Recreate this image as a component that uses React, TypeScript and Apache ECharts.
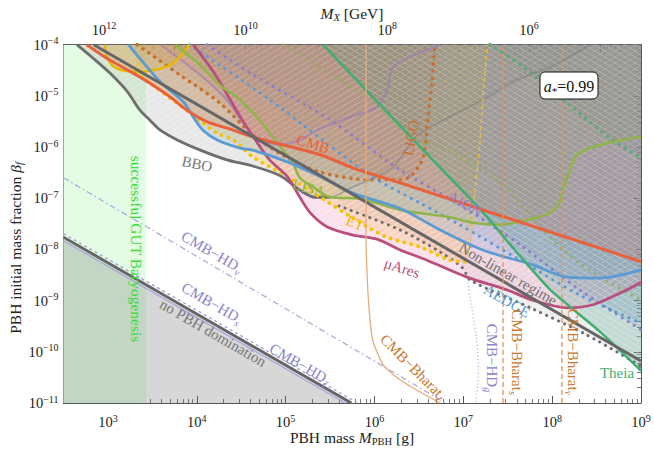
import { useEffect, useRef } from 'react';
import * as echarts from 'echarts';

const SERIF = '"Liberation Serif", "DejaVu Serif", serif';

// Axis ranges, in log10 units (PBH mass in g, beta_f, M_X in GeV)
const X_MIN = 2.5, X_MAX = 9;
const Y_MIN = -11, Y_MAX = -4;
const MX_MIN = 4.42, MX_MAX = 12.57;

const xMajor = [3, 4, 5, 6, 7, 8, 9];
const yMajor = [-11, -10, -9, -8, -7, -6, -5, -4];
const mxMajor = [5, 6, 7, 8, 9, 10, 11, 12];
const mxLabels = [6, 8, 10, 12];

// Curves: [log10 M_PBH/g, log10 beta_f]
const gutBand = [[2.5, -4], [3.43, -4]];
const noDomination = [[2.5, -7.76], [5.74, -11]];
const hdZeta = [[2.5, -7.83], [5.67, -11]];
const hdS = [[2.5, -7.69], [5.81, -11]];
const hdNu = [[2.5, -6.6], [6.8, -11]];
const hdG = [[7.05, -8.65], [7.1, -9.18], [7.15, -9.77], [7.17, -10.35], [7.14, -11]];
const bbo = [[2.65, -4], [2.83, -4.26], [3.02, -4.55], [3.22, -4.92], [3.36, -5.28], [3.47, -5.47], [3.59, -5.67], [3.78, -5.86], [4.04, -6.06], [4.34, -6.25], [4.63, -6.37], [4.94, -6.56], [5.16, -6.84], [5.33, -6.98], [5.5, -6.98], [5.73, -6.8], [5.95, -6.64], [6.21, -6.39], [6.37, -6.02], [6.51, -5.73], [6.85, -5.41], [7.22, -5.08], [7.6, -4.69], [7.98, -4.44], [8.43, -4]];
const nonLinear = [[2.84, -4], [9, -10.18]];
const ligo = [[3.33, -4], [3.81, -4.59], [4.26, -5.14], [4.63, -5.76], [5.02, -6.21], [5.39, -6.49], [5.95, -6.64], [6.29, -6.64], [6.42, -6.55], [6.55, -6.19], [6.6, -5.47], [6.65, -4.69], [6.68, -4]];
const et = [[3.31, -4.55], [3.47, -4.75], [3.7, -5.04], [3.89, -5.28], [4.07, -5.53], [4.23, -5.73], [4.41, -5.86], [4.63, -6.19], [5.02, -6.58], [5.39, -6.98], [5.76, -7.39], [6.14, -7.76], [6.51, -7.95], [6.85, -8.21], [7.02, -8.24], [7.08, -7.91], [7.12, -7.03], [7.18, -6.06], [7.22, -5.08], [7.27, -4]];
const goldLoop = [[2.96, -4], [2.99, -4.24], [3.06, -4.42], [3.19, -4.51], [3.36, -4.53], [3.53, -4.49], [3.7, -4.4], [3.83, -4.2], [3.92, -4]];
const cmb = [[2.76, -4], [3.02, -4.3], [3.28, -4.55], [3.47, -4.75], [3.7, -5.02], [3.89, -5.28], [4.12, -5.51], [4.34, -5.63], [4.63, -5.8], [5.02, -5.98], [5.39, -6.15], [5.76, -6.41], [6.29, -6.7], [9, -8.24]];
const blueSolid = [[3.23, -4], [3.59, -4.73], [3.85, -5.12], [3.96, -5.41], [4.07, -5.67], [4.23, -5.86], [4.49, -6.02], [4.63, -6.06], [5.02, -6.29], [5.39, -6.58], [5.76, -6.9], [6.29, -7.2], [6.74, -7.62], [7.22, -8.01], [7.78, -8.3], [8.17, -8.54], [8.54, -8.56], [9, -8.4]];
const lisa = [[3.76, -4], [4.04, -4.4], [4.26, -4.79], [4.49, -5.08], [4.75, -5.57], [4.94, -6.0], [5.08, -6.31], [5.16, -6.6], [5.31, -6.78], [5.5, -6.98], [5.84, -7.01], [6.29, -7.23], [6.85, -7.37], [7.11, -7.48], [7.38, -7.52], [7.64, -7.46], [7.92, -7.33], [8.07, -7.13], [8.12, -6.84], [8.18, -6.55], [8.28, -6.15], [8.54, -5.96], [9, -5.8]];
const muAres = [[3.96, -4], [4.21, -4.59], [4.49, -5.41], [4.66, -5.86], [4.82, -6.25], [5.02, -6.58], [5.16, -6.98], [5.28, -7.29], [5.47, -7.56], [5.76, -7.72], [6.03, -7.8], [6.29, -8.01], [6.59, -8.21], [7.04, -8.54], [7.49, -8.79], [7.78, -8.99], [8.17, -9.14], [8.46, -9.08], [8.84, -8.79], [9, -8.64]];
const aedge = [[5.6, -7.15], [6.29, -7.62], [6.74, -8.05], [6.99, -8.36], [7.08, -8.6], [7.78, -9.16], [8.39, -9.67], [9, -10.28]];
const blueDotted = [[3.92, -4], [4.82, -5.08], [5.95, -6.55], [6.51, -7.09], [6.96, -7.52], [7.64, -8.21], [8.31, -8.89], [9, -9.44]];
const aion = [[4.12, -4], [4.6, -4.55], [5.5, -5.47], [6.29, -6.45], [6.96, -7.13], [7.64, -7.91], [8.31, -8.79], [9, -9.57]];
const mauve = [[3.59, -4], [4.04, -4.59], [4.34, -5.08], [4.63, -5.76], [4.94, -5.96], [5.16, -5.86], [5.35, -5.67], [5.73, -5.41], [6.03, -5.22], [6.14, -4.89], [6.21, -4.44], [6.4, -4.24], [6.74, -4]];
const theia = [[5.42, -4], [6.55, -6.06], [7.22, -7.27], [7.53, -7.91], [7.98, -8.79], [8.54, -9.61], [9, -10.37]];
const greenDot = [[7.3, -4], [7.72, -4.49], [8.17, -5.14], [8.68, -5.86], [9, -6.21]];
const oliveDot = [[4.97, -4], [5.95, -5.08], [6.37, -5.73], [6.93, -6.15], [7.41, -6.7], [8.12, -8.01], [8.54, -8.54], [9, -8.99]];
const bharatZeta = [[5.905, -4], [5.905, -7.81], [5.92, -8.6], [5.94, -9.18], [5.98, -9.77], [6.1, -10.26], [6.29, -10.55], [6.57, -10.84], [6.74, -11]];
const bharatS = [[7.447, -11], [7.447, -4]];
const bharatNu = [[8.11, -11], [8.11, -4]];

function minorTicks(lo: number, hi: number) {
  const out: number[] = [];
  for (let n = Math.floor(lo) - 1; n <= Math.ceil(hi); n++) {
    for (let k = 2; k <= 9; k++) {
      const v = n + Math.log10(k);
      if (v > lo + 1e-6 && v < hi - 1e-6) out.push(v);
    }
  }
  return out;
}

function hatch(bg: string, dir: number, lineA = 0.4) {
  const w = 10, h = 6;
  const c = document.createElement('canvas');
  c.width = w; c.height = h;
  const g = c.getContext('2d')!;
  g.fillStyle = bg; g.fillRect(0, 0, w, h);
  g.strokeStyle = `rgba(255,255,255,${lineA})`; g.lineWidth = 0.8;
  g.beginPath();
  for (const off of [-w, 0, w]) {
    if (dir > 0) { g.moveTo(off, h); g.lineTo(off + w, 0); }
    else { g.moveTo(off, 0); g.lineTo(off + w, h); }
  }
  g.stroke();
  return { image: c, repeat: 'repeat' };
}

type Opt = { color: string; width?: number; dash?: any; cap?: string; fill?: any; origin?: string; smooth?: number; opacity?: number };
function mk(data: number[][], o: Opt) {
  return {
    type: 'line', data, symbol: 'none', silent: true, smooth: o.smooth ?? 0.3,
    lineStyle: { color: o.color, width: o.width ?? 2, type: o.dash ?? 'solid', cap: o.cap ?? 'butt', opacity: o.opacity ?? 1 },
    areaStyle: o.fill ? { color: o.fill, origin: o.origin ?? 'end', opacity: 1 } : undefined,
  };
}
const DOT = (gap: number) => ({ dash: [0.1, gap], cap: 'round' });

function lbl(text: string, x: number, y: number, deg: number, color: string, size = 15) {
  const base = { fill: color, fontSize: size, fontFamily: SERIF, lineHeight: size + 5 };
  return {
    type: 'text', x, y, rotation: -deg * Math.PI / 180, z: 50, silent: true,
    style: {
      text, fill: color, font: `${size}px ${SERIF}`, align: 'center', verticalAlign: 'middle',
      textAlign: 'center', textVerticalAlign: 'middle',
      rich: {
        r: base,
        i: { ...base, fontStyle: 'italic' },
        s: { fill: color, fontSize: size * 0.68, fontFamily: SERIF, verticalAlign: 'bottom', lineHeight: size * 0.5 },
        si: { fill: color, fontSize: size * 0.68, fontFamily: SERIF, fontStyle: 'italic', verticalAlign: 'bottom', lineHeight: size * 0.5 },
      },
    },
  };
}

const FRAME = '#555';
const tickLabelRich = {
  b: { fontSize: 14.5, fontFamily: SERIF, color: '#222', lineHeight: 18 },
  e: { fontSize: 10, fontFamily: SERIF, color: '#222', verticalAlign: 'top', lineHeight: 9 },
};
const pow = (v: number) => {
  const n = Math.round(v);
  return `{b|10}{e|${n < 0 ? '\u2212' + (-n) : n}}`;
};

function majorAxis(pos: string, min: number, max: number, major: number[], labels: number[] | null, margin = 5, extra: any = {}) {
  return {
    type: 'value', position: pos, min, max, ...extra,
    axisLine: { show: true, onZero: false, lineStyle: { color: FRAME, width: 1 } },
    axisTick: { show: true, inside: true, length: 7, customValues: major, lineStyle: { color: FRAME, width: 1 } },
    axisLabel: labels ? { show: true, customValues: labels, formatter: pow, rich: tickLabelRich, margin } : { show: false },
    splitLine: { show: false },
  };
}
function minorAxis(pos: string, min: number, max: number, extra: any = {}) {
  return {
    type: 'value', position: pos, min, max, ...extra,
    axisLine: { show: false, onZero: false },
    axisTick: { show: true, inside: true, length: 4, customValues: minorTicks(min, max), lineStyle: { color: FRAME, width: 0.8 } },
    axisLabel: { show: false },
    splitLine: { show: false },
  };
}

export default function App() {
  const ref = useRef<HTMLDivElement>(null);
  useEffect(() => {
    if (!ref.current) return;
    const chart = echarts.init(ref.current, null, { renderer: 'svg' });
    const series = [
      mk(gutBand, { color: '#e3fce3', width: 0, fill: '#e3fce3', origin: 'start', smooth: 0 }),
      mk(noDomination, { color: '#646464', width: 2.8, fill: 'rgba(110,110,110,0.28)', origin: 'start', smooth: 0 }),
      mk(hdZeta, { color: '#aaa6dc', width: 1.3, smooth: 0 }),
      mk(hdS, { color: '#aaa6dc', width: 1.5, dash: [3, 3], smooth: 0 }),
      mk(hdNu, { color: '#aaa6dc', width: 1.2, dash: [6, 3, 1.5, 3], smooth: 0 }),
      mk(hdG, { color: '#aaa6dc', width: 1.3, dash: [1, 2.5] }),
      mk(bbo, { color: '#6e6e6e', width: 0, fill: hatch('rgba(140,140,140,0.2)', 1) }),
      mk(bbo.slice(13), { color: '#7a7a7a', width: 2, opacity: 0.45 }),
      mk(bbo.slice(0, 15), { color: '#6e6e6e', width: 2.8 }),
      mk(greenDot, { color: '#5fa878', width: 3.5, ...DOT(7), fill: hatch('rgba(70,150,120,0.22)', -1) }),
      mk(oliveDot, { color: '#92ad5e', width: 3, ...DOT(7), opacity: 0.8, fill: 'rgba(130,160,90,0.14)' }),
      mk(mauve, { color: '#9b7eb5', width: 2, opacity: 0.7, fill: 'rgba(150,100,160,0.18)' }),
      mk(ligo, { color: '#c8702e', width: 3.5, ...DOT(7), fill: hatch('rgba(190,100,50,0.26)', -1) }),
      mk(aion, { color: '#8c7fc9', width: 3, ...DOT(7), fill: 'rgba(130,115,200,0.16)' }),
      mk(blueDotted, { color: '#5b9bd5', width: 3, ...DOT(7), fill: 'rgba(90,150,210,0.16)' }),
      mk(aedge, { color: '#6e6e6e', width: 3, ...DOT(6.5), fill: hatch('rgba(160,160,160,0.18)', 1) }),
      mk(et, { color: '#f7c300', width: 0, fill: hatch('rgba(250,200,40,0.25)', 1) }),
      mk(et.slice(0, 15), { color: '#f7c300', width: 3.8, ...DOT(7) }),
      mk(et.slice(14), { color: '#e6c040', width: 1.4, dash: [4, 3], smooth: 0.2 }),
      mk(muAres, { color: '#b94f7d', width: 2.8, fill: hatch('rgba(235,120,170,0.22)', 1) }),
      mk(goldLoop, { color: '#e8b800', width: 2.5, fill: 'rgba(230,190,0,0.18)' }),
      mk(lisa, { color: '#8fb548', width: 2.5, fill: 'rgba(140,180,70,0.16)' }),
      mk(blueSolid, { color: '#5b9bd5', width: 2.8, fill: 'rgba(90,150,210,0.18)' }),
      mk(theia, { color: '#3fae6f', width: 2.5, fill: hatch('rgba(60,150,125,0.24)', -1), smooth: 0.2 }),
      mk(cmb, { color: '#e8603c', width: 3, fill: 'rgba(215,95,65,0.18)' }),
      mk(nonLinear, { color: '#666', width: 3, smooth: 0 }),
      mk(bharatZeta, { color: '#e6ad7c', width: 1.3, smooth: 0.2 }),
      mk(bharatS, { color: '#e0955a', width: 1.3, dash: [5, 3], smooth: 0 }),
      mk(bharatNu, { color: '#e0955a', width: 1.3, dash: [5, 3], smooth: 0 }),
    ];
    const HD = '#8a84c8';
    const BH = '#c8762a';
    const graphic = [
      lbl('{r|CMB}', 313, 144, 17, '#e8603c'),
      lbl('{r|LISA}', 309, 188, 15, '#8fb548'),
      lbl('{r|ET}', 355, 223, 22, '#f5b800'),
      lbl('{r|\u03bcAres}', 402, 268, 18, '#b94f7d'),
      lbl('{r|BBO}', 197, 164, 12, '#777'),
      lbl('{r|LIGO}', 411, 138, -80, '#c8702e'),
      lbl('{r|AION}', 465, 204, 30, '#8c7fc9'),
      lbl('{r|Non-linear regime}', 508, 274, 30, '#707070'),
      lbl('{r|AEDGE}', 507, 301, 30, '#4f9bd5'),
      lbl('{r|Theia}', 617, 373, 0, '#3fae6f'),
      lbl('{r|CMB\u2212HD}{si|\u03bd}', 212, 252, 30, HD),
      lbl('{r|CMB\u2212HD}{si|s}', 212, 303, 30, HD),
      lbl('{r|no PBH domination}', 213, 333, 30, '#777'),
      lbl('{r|CMB\u2212HD}{si|\u03b6}', 300, 364, 30, HD),
      lbl('{r|CMB\u2212HD}{si|g}', 492, 358, 90, HD),
      lbl('{r|CMB\u2212Bharat}{si|\u03b6}', 413, 367, 45, BH),
      lbl('{r|CMB\u2212Bharat}{si|s}', 517, 352, 90, BH),
      lbl('{r|CMB\u2212Bharat}{si|\u03bd}', 573, 352, 90, BH),
      lbl('{r|successful GUT Baryogenesis}', 136, 249, 90, '#33e033', 15.5),
      { type: 'rect', z: 60, silent: true, shape: { x: 540, y: 72, width: 58, height: 27, r: 5 }, style: { fill: '#fff', stroke: '#111', lineWidth: 1 } },
      { ...lbl('{i|a}{s|*}{r|=0.99}', 569, 86, 0, '#111', 16), z: 61 },
      lbl('{r|PBH mass }{i|M}{s|PBH}{r| [g]}', 352, 437, 0, '#222', 15.5),
      lbl('{r|PBH initial mass fraction }{i|\u03b2}{si|f}', 15, 248, -90, '#222', 15.5),
      lbl('{i|M}{si|X}{r| [GeV]}', 352, 13, 0, '#222', 15.5),
    ];
    chart.setOption({
      animation: false,
      backgroundColor: '#fff',
      grid: { left: 63.5, right: 13, top: 44.7, bottom: 48, containLabel: false },
      xAxis: [
        majorAxis('bottom', X_MIN, X_MAX, xMajor, xMajor, 10),
        minorAxis('bottom', X_MIN, X_MAX),
        majorAxis('top', MX_MIN, MX_MAX, mxMajor, mxLabels, 6, { inverse: true }),
        minorAxis('top', MX_MIN, MX_MAX, { inverse: true }),
      ],
      yAxis: [
        majorAxis('left', Y_MIN, Y_MAX, yMajor, yMajor, 5),
        minorAxis('left', Y_MIN, Y_MAX),
        majorAxis('right', Y_MIN, Y_MAX, yMajor, null),
        minorAxis('right', Y_MIN, Y_MAX),
      ],
      series: series.map((s) => ({ ...s, xAxisIndex: 0, yAxisIndex: 0 })),
      graphic,
    });
    return () => chart.dispose();
  }, []);
  return <div ref={ref} style={{ position: 'absolute', left: 0, top: 0, width: 654, height: 451, background: '#fff' }} />;
}
